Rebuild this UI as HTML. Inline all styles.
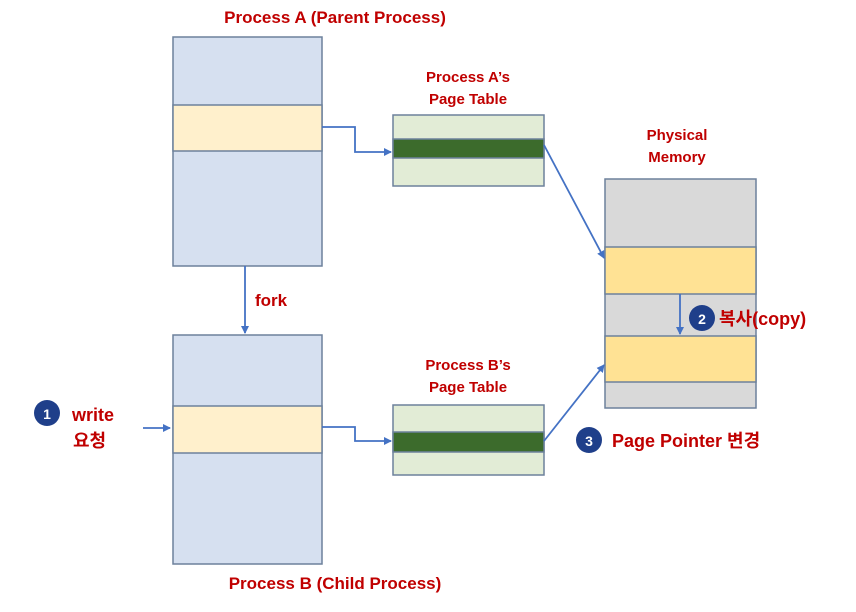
<!DOCTYPE html>
<html><head><meta charset="utf-8"><style>
html,body{margin:0;padding:0;background:#fff;}
svg{display:block;}
text{font-family:"Liberation Sans","Noto Sans CJK KR",sans-serif;font-weight:bold;fill:#c00000;}
</style></head><body>
<svg width="856" height="612" viewBox="0 0 856 612" xmlns="http://www.w3.org/2000/svg">
<defs><marker id="ar" markerWidth="8" markerHeight="8" refX="7" refY="4" orient="auto" markerUnits="userSpaceOnUse"><path d="M0,0 L8,4 L0,8 z" fill="#4472c4"/></marker></defs>
<g stroke="#6d819c" stroke-width="1.5">
<rect x="173" y="37" width="149" height="229" fill="#d6e0f0"/>
<rect x="173" y="105" width="149" height="46" fill="#fff0cc"/>
<rect x="173" y="335" width="149" height="229" fill="#d6e0f0"/>
<rect x="173" y="406" width="149" height="47" fill="#fff0cc"/>
<rect x="393" y="115" width="151" height="71" fill="#e2ecd6"/>
<rect x="393" y="139" width="151" height="19" fill="#3c6b2c"/>
<rect x="393" y="405" width="151" height="70" fill="#e2ecd6"/>
<rect x="393" y="432" width="151" height="20" fill="#3c6b2c"/>
<rect x="605" y="179" width="151" height="229" fill="#d9d9d9"/>
<rect x="605" y="247" width="151" height="47" fill="#ffe294"/>
<rect x="605" y="336" width="151" height="46" fill="#ffe294"/>
</g>
<g stroke="#4472c4" stroke-width="1.8" fill="none">
<path d="M322,127 H355 V152 H391" marker-end="url(#ar)"/>
<path d="M322,427 H355 V441 H391" marker-end="url(#ar)"/>
<path d="M245,266 V333" marker-end="url(#ar)"/>
<path d="M544,145 L604,258" marker-end="url(#ar)"/>
<path d="M544,441 L604,365" marker-end="url(#ar)"/>
<path d="M680,294 V334" marker-end="url(#ar)"/>
<path d="M143,428 H170" marker-end="url(#ar)"/>
</g>
<text x="335" y="23" font-size="17" text-anchor="middle">Process A (Parent Process)</text>
<text x="468" y="82" font-size="15" text-anchor="middle">Process A’s</text>
<text x="468" y="104" font-size="15" text-anchor="middle">Page Table</text>
<text x="677" y="140" font-size="15" text-anchor="middle">Physical</text>
<text x="677" y="162" font-size="15" text-anchor="middle">Memory</text>
<text x="255" y="306" font-size="17">fork</text>
<text x="468" y="370" font-size="15" text-anchor="middle">Process B’s</text>
<text x="468" y="392" font-size="15" text-anchor="middle">Page Table</text>
<text x="335" y="589" font-size="17" text-anchor="middle">Process B (Child Process)</text>
<g font-size="14">
<circle cx="47" cy="413" r="13" fill="#1f3f8a"/><text x="47" y="419" text-anchor="middle" style="fill:#fff">1</text>
<circle cx="702" cy="318" r="13" fill="#1f3f8a"/><text x="702" y="324" text-anchor="middle" style="fill:#fff">2</text>
<circle cx="589" cy="440" r="13" fill="#1f3f8a"/><text x="589" y="446" text-anchor="middle" style="fill:#fff">3</text>
</g>
<text x="72" y="421" font-size="18">write</text>
<text x="73" y="447" font-size="18">요청</text>
<text x="719" y="325" font-size="18">복사(copy)</text>
<text x="612" y="447" font-size="18">Page Pointer 변경</text>
</svg>
</body></html>
